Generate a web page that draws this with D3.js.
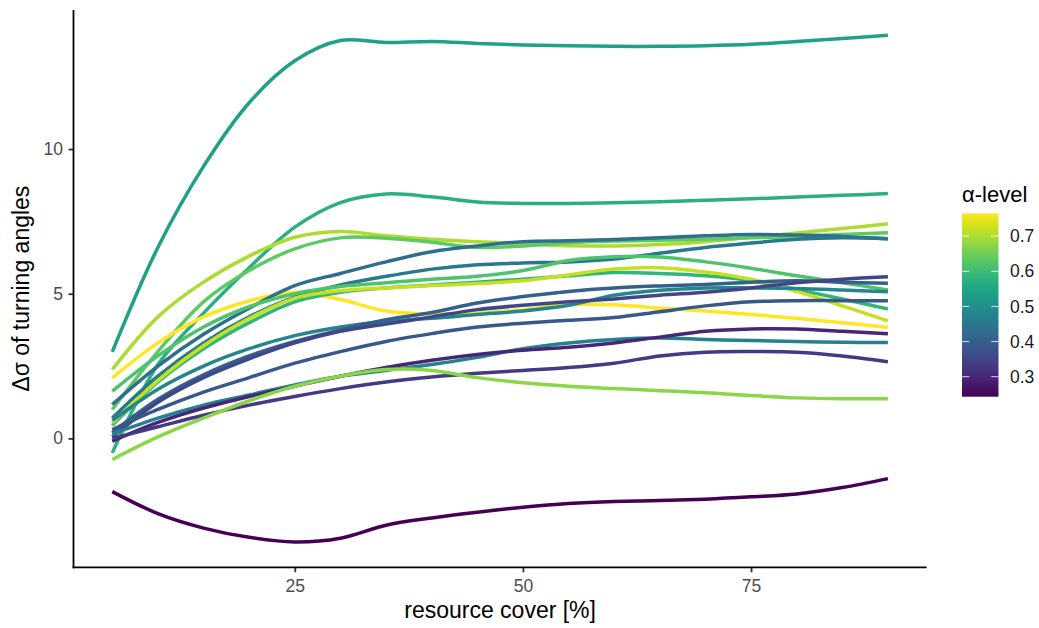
<!DOCTYPE html>
<html>
<head>
<meta charset="utf-8">
<script src="https://cdn.jsdelivr.net/npm/d3@7/dist/d3.min.js"></script>
<style>
  html, body { margin: 0; padding: 0; background: #fff; }
  svg { display: block; font-family: "Liberation Sans", Arial, sans-serif; }
</style>
</head>
<body>
<svg id="chart" width="1039" height="628"></svg>
<script>
// Resource cover (%) at which each smoothed curve is evaluated
const coverPct = [5, 10, 15, 20, 25, 30, 35, 40, 45, 50, 55, 60, 65, 70, 75, 80, 85, 90];

// Change in turning-angle spread, one curve per run
const run01 = [2.99, 6.6, 9.4, 11.6, 13.05, 13.75, 13.68, 13.72, 13.65, 13.6, 13.57, 13.55, 13.55, 13.57, 13.62, 13.72, 13.82, 13.93];
const run02 = [-0.5, 2.55, 4.33, 5.9, 7.3, 8.15, 8.45, 8.35, 8.17, 8.12, 8.12, 8.14, 8.18, 8.23, 8.28, 8.34, 8.4, 8.46];
const run03 = [2.38, 4.2, 5.4, 6.3, 6.95, 7.15, 7.0, 6.88, 6.8, 6.72, 6.66, 6.65, 6.7, 6.8, 6.95, 7.1, 7.25, 7.42];
const run04 = [1.0, 3.0, 4.72, 5.8, 6.55, 6.93, 6.92, 6.78, 6.6, 6.65, 6.76, 6.82, 6.85, 6.88, 6.93, 6.98, 7.05, 7.11];
const run05 = [2.09, 3.3, 4.2, 4.75, 5.05, 4.8, 4.4, 4.3, 4.33, 4.45, 4.62, 4.62, 4.5, 4.4, 4.28, 4.15, 4.0, 3.83];
const run06 = [1.17, 2.5, 3.6, 4.5, 5.28, 5.7, 6.1, 6.45, 6.65, 6.8, 6.83, 6.87, 6.93, 7.0, 7.05, 7.03, 6.98, 6.9];
const run07 = [0.7, 2.15, 3.3, 4.2, 4.88, 5.3, 5.6, 5.85, 6.0, 6.06, 6.1, 6.2, 6.4, 6.6, 6.75, 6.88, 6.93, 6.9];
const run08 = [1.63, 2.85, 3.85, 4.55, 5.0, 5.25, 5.38, 5.5, 5.6, 5.8, 6.15, 6.28, 6.27, 6.1, 5.88, 5.62, 5.38, 5.13];
const run09 = [0.45, 1.95, 3.1, 4.0, 4.72, 5.05, 5.2, 5.3, 5.4, 5.5, 5.62, 5.73, 5.7, 5.62, 5.45, 5.15, 4.82, 4.47];
const run10 = [0.53, 2.0, 3.2, 4.15, 4.85, 5.1, 5.2, 5.28, 5.35, 5.45, 5.65, 5.85, 5.9, 5.75, 5.5, 5.08, 4.58, 4.06];
const run11 = [0.62, 1.7, 2.5, 3.1, 3.55, 3.85, 4.05, 4.15, 4.28, 4.4, 4.6, 4.95, 5.12, 5.2, 5.2, 5.18, 5.13, 5.07];
const run12 = [0.2, 1.35, 2.2, 2.85, 3.35, 3.75, 4.1, 4.35, 4.68, 4.9, 5.08, 5.2, 5.27, 5.32, 5.4, 5.45, 5.4, 5.36];
const run13 = [0.05, 1.25, 2.1, 2.75, 3.3, 3.7, 3.95, 4.2, 4.45, 4.6, 4.72, 4.82, 4.95, 5.05, 5.2, 5.38, 5.5, 5.59];
const run14 = [0.3, 1.0, 1.6, 2.1, 2.6, 3.0, 3.35, 3.62, 3.85, 3.98, 4.08, 4.18, 4.38, 4.58, 4.72, 4.76, 4.76, 4.76];
const run15 = [0.15, 0.7, 1.15, 1.5, 1.85, 2.15, 2.35, 2.55, 2.8, 3.1, 3.3, 3.42, 3.47, 3.42, 3.38, 3.35, 3.32, 3.31];
const run16 = [-0.1, 0.55, 1.05, 1.45, 1.8, 2.15, 2.45, 2.7, 2.9, 3.05, 3.15, 3.3, 3.5, 3.7, 3.78, 3.78, 3.7, 3.62];
const run17 = [0.0, 0.4, 0.8, 1.15, 1.45, 1.72, 1.95, 2.12, 2.25, 2.35, 2.45, 2.6, 2.85, 2.98, 3.0, 2.98, 2.85, 2.65];
const run18 = [-0.73, 0.05, 0.7, 1.3, 1.8, 2.15, 2.38, 2.35, 2.1, 1.92, 1.8, 1.72, 1.65, 1.58, 1.48, 1.4, 1.37, 1.37];
const run19 = [-1.84, -2.6, -3.1, -3.42, -3.58, -3.45, -3.0, -2.75, -2.55, -2.38, -2.25, -2.18, -2.15, -2.1, -2.02, -1.92, -1.7, -1.39];

// α-level of each run (colour variable)
const alphaLevel = [0.54, 0.575, 0.70, 0.635, 0.765, 0.43, 0.455, 0.62, 0.585, 0.72,
                    0.48, 0.40, 0.355, 0.385, 0.47, 0.30, 0.33, 0.675, 0.243];

const runs = [run01, run02, run03, run04, run05, run06, run07, run08, run09, run10,
              run11, run12, run13, run14, run15, run16, run17, run18, run19];

// Tick labels
const xTicks = [25, 50, 75];
const yTicks = [0, 5, 10];
const legendTicks = [0.3, 0.4, 0.5, 0.6, 0.7];

const svg = d3.select("#chart");
const panel = { left: 73.5, right: 926.7, top: 10, bottom: 567.3 };

// ggplot-style 5% expansion around the data range
function expand([lo, hi], f = 0.05) {
  const d = (hi - lo) * f;
  return [lo - d, hi + d];
}

const x = d3.scaleLinear()
  .domain(expand(d3.extent(coverPct)))
  .range([panel.left, panel.right]);

const allValues = runs.flat();
const y = d3.scaleLinear()
  .domain(expand(d3.extent(allValues)))
  .range([panel.bottom, panel.top]);

const alphaExtent = d3.extent(alphaLevel);
const colour = d3.scaleSequential(d3.interpolateViridis).domain(alphaExtent);

// Curves
const line = d3.line()
  .x((d, i) => x(coverPct[i]))
  .y(d => y(d))
  .curve(d3.curveCatmullRom.alpha(0.5));

svg.append("g")
  .selectAll("path")
  .data(runs.map((vals, i) => ({ vals, a: alphaLevel[i] })))
  .join("path")
  .attr("d", d => line(d.vals))
  .attr("fill", "none")
  .attr("stroke", d => colour(d.a))
  .attr("stroke-width", 3.5)
  .attr("stroke-linejoin", "round");

// Axes
const axisTextColour = "#4d4d4d";

const xAxis = svg.append("g")
  .attr("transform", `translate(0,${panel.bottom})`)
  .call(d3.axisBottom(x).tickValues(xTicks).tickSize(5).tickSizeOuter(0).tickPadding(7.7));
const yAxis = svg.append("g")
  .attr("transform", `translate(${panel.left},0)`)
  .call(d3.axisLeft(y).tickValues(yTicks).tickSize(5).tickSizeOuter(0).tickPadding(5.5));

[xAxis, yAxis].forEach(g => {
  g.select(".domain").remove();
  g.selectAll(".tick line").attr("stroke", "#333333").attr("stroke-width", 1.8);
  g.selectAll(".tick text")
    .attr("fill", axisTextColour)
    .style("font-size", "17.5px")
    .style("font-family", "'Liberation Sans', Arial, sans-serif");
});

// Axis lines (left and bottom only)
svg.append("line")
  .attr("x1", panel.left).attr("x2", panel.left)
  .attr("y1", panel.top).attr("y2", panel.bottom + 0.9)
  .attr("stroke", "#000").attr("stroke-width", 1.8);
svg.append("line")
  .attr("x1", panel.left - 0.9).attr("x2", panel.right)
  .attr("y1", panel.bottom).attr("y2", panel.bottom)
  .attr("stroke", "#000").attr("stroke-width", 1.8);

// Axis titles
svg.append("text")
  .attr("x", (panel.left + panel.right) / 2)
  .attr("y", 618)
  .attr("text-anchor", "middle")
  .style("font-size", "23px")
  .attr("fill", "#000")
  .text("resource cover [%]");

svg.append("text")
  .attr("transform", `translate(29,${(panel.top + panel.bottom) / 2}) rotate(-90)`)
  .attr("text-anchor", "middle")
  .style("font-size", "23px")
  .attr("fill", "#000")
  .text("Δσ of turning angles");

// Colour bar legend
const bar = { x: 962, w: 36.5, top: 213.3, bottom: 396.7 };
const legendY = d3.scaleLinear().domain(alphaExtent).range([bar.bottom, bar.top]);

const defs = svg.append("defs");
const grad = defs.append("linearGradient")
  .attr("id", "alphaGradient")
  .attr("x1", 0).attr("y1", 1).attr("x2", 0).attr("y2", 0);
d3.range(0, 1.0001, 0.05).forEach(t => {
  grad.append("stop")
    .attr("offset", t)
    .attr("stop-color", colour(alphaExtent[0] + t * (alphaExtent[1] - alphaExtent[0])));
});

svg.append("rect")
  .attr("x", bar.x).attr("y", bar.top)
  .attr("width", bar.w).attr("height", bar.bottom - bar.top)
  .attr("fill", "url(#alphaGradient)");

const tickLen = bar.w / 5;
const legendTickG = svg.append("g");
legendTicks.forEach(v => {
  const ty = legendY(v);
  legendTickG.append("line")
    .attr("x1", bar.x).attr("x2", bar.x + tickLen)
    .attr("y1", ty).attr("y2", ty)
    .attr("stroke", "#fff").attr("stroke-width", 1).attr("stroke-opacity", 0.8);
  legendTickG.append("line")
    .attr("x1", bar.x + bar.w - tickLen).attr("x2", bar.x + bar.w)
    .attr("y1", ty).attr("y2", ty)
    .attr("stroke", "#fff").attr("stroke-width", 1).attr("stroke-opacity", 0.8);
  legendTickG.append("text")
    .attr("x", 1010)
    .attr("y", ty)
    .attr("dy", "0.35em")
    .style("font-size", "17.5px")
    .attr("fill", "#1a1a1a")
    .text(v.toFixed(1));
});

svg.append("text")
  .attr("x", bar.x)
  .attr("y", 202)
  .style("font-size", "22px")
  .attr("fill", "#000")
  .text("α-level");
</script>
</body>
</html>
